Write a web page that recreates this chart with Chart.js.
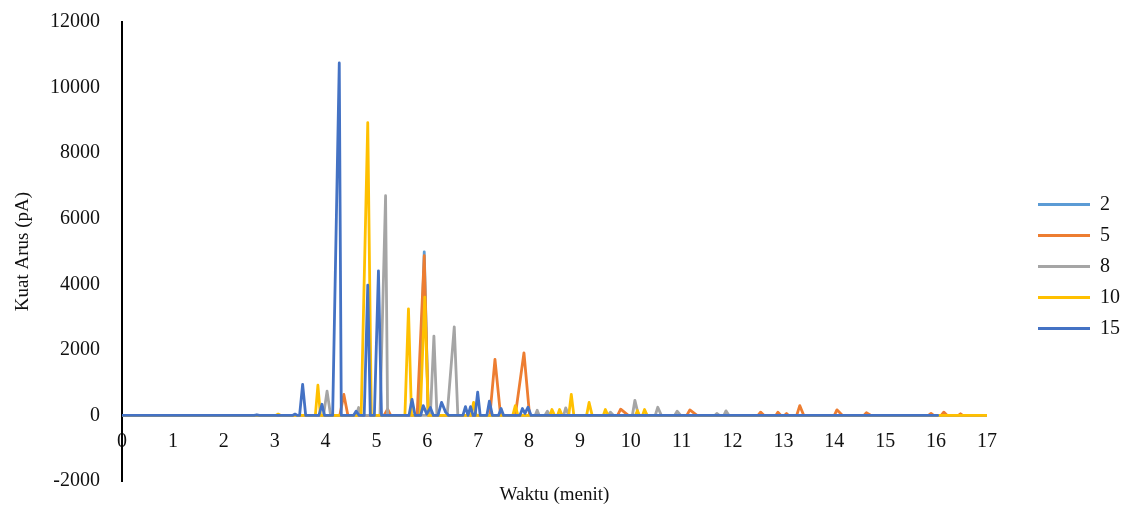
<!DOCTYPE html>
<html>
<head>
<meta charset="utf-8">
<title>Kromatogram</title>
<script src="https://cdn.jsdelivr.net/npm/chart.js@4.4.0/dist/chart.umd.min.js"></script>
<style>
  html, body { margin: 0; padding: 0; background: #fff; }
</style>
</head>
<body>
<canvas id="chromChart" width="1122" height="505"></canvas>
<script>
// Series names (legend)
const seriesNames = ["2", "5", "8", "10", "15"];
const seriesColors = ["#5B9BD5", "#ED7D31", "#A5A5A5", "#FFC000", "#4472C4"];

// Tick values
const xTicks = [0, 1, 2, 3, 4, 5, 6, 7, 8, 9, 10, 11, 12, 13, 14, 15, 16, 17];
const yTicks = [-2000, 0, 2000, 4000, 6000, 8000, 10000, 12000];

// Series "2" (time in minutes, current in pA)
const time2 = [0, 5.84, 5.94, 6.02, 17];
const value2 = [0, 0, 4990, 0, 0];

// Series "5"
const time5 = [0, 4.28, 4.36, 4.44, 5.15, 5.22, 5.28, 5.80, 5.94, 6.02, 7.23, 7.33, 7.44, 7.73, 7.90, 8.01,
  9.74, 9.80, 9.95, 11.10, 11.16, 11.30, 12.50, 12.55, 12.62, 12.85, 12.89, 12.95, 13.02, 13.06, 13.10,
  13.26, 13.32, 13.40, 14.00, 14.05, 14.16, 14.58, 14.63, 14.72, 15.85, 15.90, 15.95, 16.10, 16.15, 16.22,
  16.44, 16.48, 16.52, 17];
const value5 = [0, 0, 640, 0, 0, 190, 0, 0, 4870, 0, 0, 1710, 0, 0, 1910, 0,
  0, 190, 0, 0, 170, 0, 0, 100, 0, 0, 100, 0, 0, 60, 0,
  0, 300, 0, 0, 170, 0, 0, 80, 0, 0, 60, 0, 0, 100, 0,
  0, 50, 0, 0];

// Series "8"
const time8 = [0, 3.96, 4.03, 4.10, 4.60, 4.65, 4.70, 5.07, 5.18, 5.22, 6.06, 6.13, 6.19, 6.39, 6.53, 6.60,
  8.12, 8.16, 8.20, 8.31, 8.36, 8.41, 8.68, 8.72, 8.78, 9.55, 9.60, 9.66, 10.03, 10.08, 10.15,
  10.48, 10.53, 10.60, 10.86, 10.91, 10.98, 11.65, 11.69, 11.74, 11.83, 11.87, 11.93, 17];
const value8 = [0, 0, 740, 0, 0, 240, 0, 0, 6700, 0, 0, 2420, 0, 0, 2700, 0,
  0, 160, 0, 0, 130, 0, 0, 230, 0, 0, 100, 0, 0, 460, 0,
  0, 250, 0, 0, 130, 0, 0, 60, 0, 0, 140, 0, 0];

// Series "10"
const time10 = [0, 3.02, 3.07, 3.12, 3.80, 3.85, 3.90, 4.70, 4.83, 4.90, 5.56, 5.63, 5.69, 5.86, 5.95, 6.02,
  6.86, 6.91, 6.96, 7.68, 7.73, 7.78, 8.41, 8.45, 8.50, 8.56, 8.60, 8.65, 8.78, 8.83, 8.88,
  9.13, 9.18, 9.24, 9.46, 9.50, 9.55, 10.09, 10.13, 10.17, 10.23, 10.27, 10.32, 17];
const value10 = [0, 0, 40, 0, 0, 920, 0, 0, 8930, 0, 0, 3250, 0, 0, 3610, 0,
  0, 400, 0, 0, 300, 0, 0, 180, 0, 0, 180, 0, 0, 640, 0,
  0, 395, 0, 0, 180, 0, 0, 150, 0, 0, 180, 0, 0];

// Series "15"
const time15 = [0, 2.60, 2.65, 2.70, 3.35, 3.40, 3.45, 3.49, 3.55, 3.61, 3.87, 3.93, 3.98, 4.14, 4.27, 4.31,
  4.55, 4.60, 4.66, 4.76, 4.83, 4.88, 4.96, 5.04, 5.10, 5.64, 5.70, 5.76, 5.87, 5.92, 5.99, 6.06, 6.12,
  6.21, 6.28, 6.36, 6.42, 6.70, 6.75, 6.80, 6.85, 6.90, 6.94, 6.99, 7.04, 7.17, 7.22, 7.28,
  7.40, 7.45, 7.50, 7.82, 7.87, 7.92, 7.98, 8.04, 16.03];
const value15 = [0, 0, 20, 0, 0, 40, 0, 0, 950, 0, 0, 340, 0, 0, 10750, 0,
  0, 130, 0, 0, 3970, 0, 0, 4410, 0, 0, 490, 0, 0, 300, 40, 240, 0,
  0, 400, 100, 0, 0, 270, 0, 270, 0, 0, 710, 0, 0, 435, 0,
  0, 210, 0, 0, 210, 60, 250, 0, 0];

const seriesTimes = [time2, time5, time8, time10, time15];
const seriesValues = [value2, value5, value8, value10, value15];

const serif = "'Liberation Serif', 'Times New Roman', serif";

// Move the legend away from the plot, like the original
const legendShift = {
  id: 'legendShift',
  afterLayout(chart) {
    const lg = chart.legend;
    lg.left += 40;
    lg.right += 40;
    lg.top += 3;
    lg.bottom += 3;
  }
};

const datasets = seriesNames.map((name, i) => ({
  label: name,
  data: seriesTimes[i].map((t, j) => ({ x: t, y: seriesValues[i][j] })),
  borderColor: seriesColors[i],
  backgroundColor: seriesColors[i],
  borderWidth: 2.8,
  borderJoinStyle: 'round',
  borderCapStyle: 'round',
  pointRadius: 0,
  tension: 0,
  fill: false,
  order: seriesNames.length - i
}));

const ctx = document.getElementById('chromChart').getContext('2d');
new Chart(ctx, {
  type: 'line',
  data: { datasets },
  options: {
    responsive: false,
    animation: false,
    layout: { padding: { top: 22, right: 32, bottom: 0, left: 0 } },
    plugins: {
      tooltip: { enabled: false },
      legend: {
        position: 'right',
        labels: {
          usePointStyle: true,
          pointStyle: 'line',
          pointStyleWidth: 52,
          padding: 11,
          color: '#111',
          font: { family: serif, size: 20 },
          sort: (a, b) => a.datasetIndex - b.datasetIndex
        }
      },
      title: {
        display: true,
        text: 'Waktu (menit)',
        position: 'bottom',
        fullSize: false,
        color: '#111',
        font: { family: serif, size: 19, weight: 'normal', lineHeight: 1 },
        padding: { top: 5, bottom: 0 }
      }
    },
    scales: {
      x: {
        type: 'linear',
        position: { y: 0 },
        min: xTicks[0],
        max: xTicks[xTicks.length - 1],
        afterBuildTicks: (scale) => { scale.ticks = xTicks.map(v => ({ value: v })); },
        grid: { display: false, drawTicks: false },
        border: { display: false },
        ticks: { padding: 14, color: '#111', font: { family: serif, size: 20 }, maxRotation: 0 }
      },
      y: {
        min: yTicks[0],
        max: yTicks[yTicks.length - 1],
        afterBuildTicks: (scale) => { scale.ticks = yTicks.map(v => ({ value: v })); },
        afterFit: (scale) => {
          scale.width = 122;
          scale.paddingTop = 0;
          scale.paddingBottom = 0;
        },
        grid: { display: false, drawTicks: false },
        border: { display: true, color: '#000', width: 2 },
        ticks: {
          padding: 22,
          color: '#111',
          font: { family: serif, size: 20 },
          callback: (v) => String(v)
        },
        title: {
          display: true,
          text: 'Kuat Arus (pA)',
          color: '#111',
          font: { family: serif, size: 19 },
          padding: { top: 12, bottom: 0 }
        }
      }
    }
  },
  plugins: [legendShift]
});
</script>
</body>
</html>
